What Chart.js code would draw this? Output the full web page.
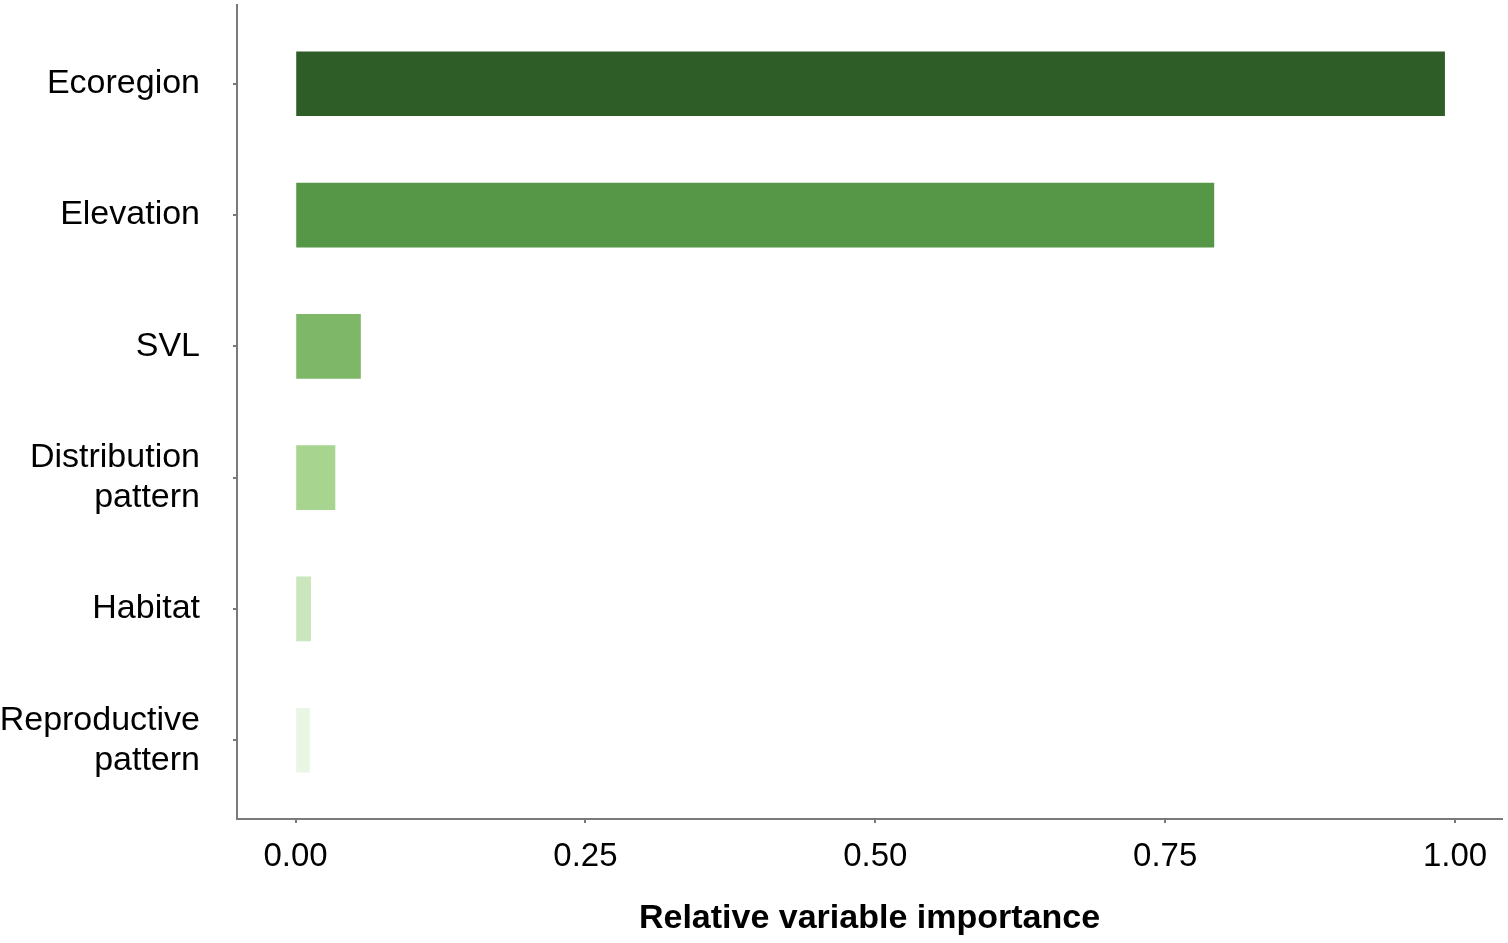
<!DOCTYPE html>
<html>
<head>
<meta charset="utf-8">
<script src="https://cdn.jsdelivr.net/npm/chart.js@4/dist/chart.umd.min.js"></script>
<style>
  html, body { margin: 0; padding: 0; background: #fff; }
  #wrap { width: 1508px; height: 943px; }
</style>
</head>
<body>
<div id="wrap"><canvas id="importanceChart"></canvas></div>
<script>
// Variable importance values
const categories = ['Ecoregion', 'Elevation', 'SVL', ['Distribution', 'pattern'], 'Habitat', ['Reproductive', 'pattern']];
const importance = [0.991, 0.792, 0.056, 0.034, 0.013, 0.012];
const barColors = ['#2f5d27', '#559747', '#7eb767', '#a7d48f', '#c9e6bc', '#eaf5e3'];
const xTicks = [0, 0.25, 0.5, 0.75, 1];

const axisGray = '#7a7a7a';
const fontFamily = '"Liberation Sans", Arial, sans-serif';

const ctx = document.getElementById('importanceChart');
new Chart(ctx, {
    type: 'bar',
    data: {
        datasets: [{
            data: importance.map((v, i) => ({ x: v, y: i })),
            backgroundColor: barColors,
            borderWidth: 0,
            barThickness: 64
        }]
    },
    options: {
        indexAxis: 'y',
        responsive: true,
        maintainAspectRatio: false,
        animation: false,
        layout: { padding: { top: 5, right: 6, left: 0, bottom: 0 } },
        plugins: {
            legend: { display: false },
            tooltip: { enabled: false }
        },
        scales: {
            x: {
                type: 'linear',
                min: -0.0505,
                max: 1.0405,
                afterBuildTicks: scale => { scale.ticks = xTicks.map(v => ({ value: v })); },
                afterFit: scale => { scale.height = 124; scale.paddingLeft = 0; scale.paddingRight = 0; },
                border: { display: true, color: axisGray, width: 2 },
                grid: { drawOnChartArea: false, drawTicks: true, tickLength: 4, color: axisGray, lineWidth: 2 },
                ticks: {
                    color: '#000',
                    padding: 14,
                    font: { family: fontFamily, size: 33 },
                    callback: v => v.toFixed(2)
                },
                title: {
                    display: true,
                    text: 'Relative variable importance',
                    color: '#000',
                    font: { family: fontFamily, size: 34, weight: 'bold', lineHeight: 1.2 },
                    padding: { top: 0, bottom: 4 }
                }
            },
            y: {
                type: 'linear',
                reverse: true,
                offset: false,
                min: -0.6,
                max: 5.6,
                afterBuildTicks: scale => { scale.ticks = categories.map((c, i) => ({ value: i })); },
                afterFit: scale => { scale.width = 237; scale.paddingTop = 0; scale.paddingBottom = 0; },
                border: { display: true, color: axisGray, width: 2 },
                grid: { offset: false, drawOnChartArea: false, drawTicks: true, tickLength: 4, color: axisGray, lineWidth: 2 },
                ticks: {
                    color: '#000',
                    padding: 33,
                    font: { family: fontFamily, size: 34, lineHeight: 1.18 },
                    callback: (v) => categories[v]
                }
            }
        }
    }
});
</script>
</body>
</html>
